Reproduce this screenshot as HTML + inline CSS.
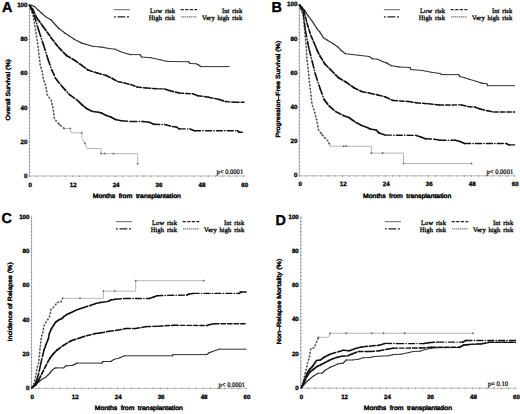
<!DOCTYPE html>
<html><head><meta charset="utf-8"><style>
html,body{margin:0;padding:0;background:#fff;overflow:hidden;width:520px;height:414px;}
svg{display:block;text-rendering:geometricPrecision;}
.tk{font-family:"Liberation Sans", sans-serif;font-weight:bold;font-size:6.2px;fill:#000;stroke:#000;stroke-width:0.32px;}
.at{font-family:"Liberation Sans", sans-serif;font-size:6.4px;word-spacing:1.5px;fill:#000;stroke:#000;stroke-width:0.45px;}
.yt{font-family:"Liberation Sans", sans-serif;font-size:6.1px;fill:#000;stroke:#000;stroke-width:0.42px;}
.pv{font-family:"Liberation Serif", serif;font-size:6.9px;fill:#000;stroke:#000;stroke-width:0.22px;}
.lg{font-family:"Liberation Serif", serif;font-size:6.5px;word-spacing:1.0px;letter-spacing:0.1px;fill:#000;stroke:#000;stroke-width:0.3px;}
.let{font-family:"Liberation Sans", sans-serif;font-weight:bold;font-size:14.4px;fill:#000;stroke:#000;stroke-width:0.35px;stroke-linejoin:round;}
</style></head><body>
<svg width="520" height="414" viewBox="0 0 520 414">
<rect width="520" height="414" fill="#fff"/>
<line x1="29.5" y1="4.6" x2="29.5" y2="176.4" stroke="#aaa" stroke-width="0.8"/>
<line x1="29.1" y1="176.0" x2="244.6" y2="176.0" stroke="#aaa" stroke-width="0.8"/>
<path d="M30.2 176.0h-1.4M30.2 172.6h-1.4M30.2 169.2h-1.4M30.2 165.8h-1.4M30.2 162.3h-1.4M30.2 158.9h-1.4M30.2 155.5h-1.4M30.2 152.1h-1.4M30.2 148.7h-1.4M30.2 145.3h-1.4M30.2 141.8h-1.4M30.2 138.4h-1.4M30.2 135.0h-1.4M30.2 131.6h-1.4M30.2 128.2h-1.4M30.2 124.8h-1.4M30.2 121.3h-1.4M30.2 117.9h-1.4M30.2 114.5h-1.4M30.2 111.1h-1.4M30.2 107.7h-1.4M30.2 104.3h-1.4M30.2 100.8h-1.4M30.2 97.4h-1.4M30.2 94.0h-1.4M30.2 90.6h-1.4M30.2 87.2h-1.4M30.2 83.8h-1.4M30.2 80.4h-1.4M30.2 76.9h-1.4M30.2 73.5h-1.4M30.2 70.1h-1.4M30.2 66.7h-1.4M30.2 63.3h-1.4M30.2 59.9h-1.4M30.2 56.4h-1.4M30.2 53.0h-1.4M30.2 49.6h-1.4M30.2 46.2h-1.4M30.2 42.8h-1.4M30.2 39.4h-1.4M30.2 35.9h-1.4M30.2 32.5h-1.4M30.2 29.1h-1.4M30.2 25.7h-1.4M30.2 22.3h-1.4M30.2 18.9h-1.4M30.2 15.4h-1.4M30.2 12.0h-1.4M30.2 8.6h-1.4M30.2 5.2h-1.4M29.5 175.5v1.4M36.6 175.5v1.4M43.8 175.5v1.4M51.0 175.5v1.4M58.1 175.5v1.4M65.2 175.5v1.4M72.4 175.5v1.4M79.6 175.5v1.4M86.7 175.5v1.4M93.9 175.5v1.4M101.0 175.5v1.4M108.2 175.5v1.4M115.3 175.5v1.4M122.5 175.5v1.4M129.6 175.5v1.4M136.8 175.5v1.4M143.9 175.5v1.4M151.1 175.5v1.4M158.2 175.5v1.4M165.3 175.5v1.4M172.5 175.5v1.4M179.7 175.5v1.4M186.8 175.5v1.4M194.0 175.5v1.4M201.1 175.5v1.4M208.2 175.5v1.4M215.4 175.5v1.4M222.6 175.5v1.4M229.7 175.5v1.4M236.9 175.5v1.4M244.0 175.5v1.4" stroke="#808080" stroke-width="0.9" fill="none"/>
<text x="27.5" y="177.8" text-anchor="end" class="tk">0</text>
<text x="27.5" y="143.6" text-anchor="end" class="tk">20</text>
<text x="27.5" y="109.5" text-anchor="end" class="tk">40</text>
<text x="27.5" y="75.3" text-anchor="end" class="tk">60</text>
<text x="27.5" y="41.2" text-anchor="end" class="tk">80</text>
<text x="27.5" y="7.0" text-anchor="end" class="tk">100</text>
<text x="30.3" y="186.6" text-anchor="middle" class="tk">0</text>
<text x="73.2" y="186.6" text-anchor="middle" class="tk">12</text>
<text x="116.1" y="186.6" text-anchor="middle" class="tk">24</text>
<text x="159.0" y="186.6" text-anchor="middle" class="tk">36</text>
<text x="201.9" y="186.6" text-anchor="middle" class="tk">48</text>
<text x="244.8" y="186.6" text-anchor="middle" class="tk">60</text>
<text x="92.7" y="197.6" class="at" textLength="88.2" lengthAdjust="spacingAndGlyphs">Months from transplantation</text>
<text transform="translate(10.4 120.4) rotate(-90)" class="yt" textLength="61.3" lengthAdjust="spacingAndGlyphs">Overall Survival (%)</text>
<text x="216.5" y="174.2" class="pv" textLength="26.7" lengthAdjust="spacingAndGlyphs">p< 0.0001</text>
<line x1="113.8" y1="9.7" x2="129.9" y2="9.7" stroke="#555" stroke-width="0.9"/>
<line x1="114.0" y1="16.8" x2="129.2" y2="16.8" stroke="#222" stroke-width="1.3" stroke-dasharray="1.8 1.7 7.8 1.7 2 20"/>
<line x1="180.6" y1="9.7" x2="197.3" y2="9.7" stroke="#222" stroke-width="1.2" stroke-dasharray="3.2 1.4"/>
<line x1="181.3" y1="16.8" x2="197.3" y2="16.8" stroke="#444" stroke-width="1.3" stroke-dasharray="1 1"/>
<text x="175.1" y="12.5" class="lg" text-anchor="end">Low risk</text>
<text x="175.1" y="19.5" class="lg" text-anchor="end">High risk</text>
<text x="242.3" y="12.5" class="lg" text-anchor="end">Int risk</text>
<text x="242.3" y="19.5" class="lg" text-anchor="end">Very high risk</text>
<text x="2.0" y="12.0" class="let">A</text>
<polyline points="29.5,5.2 33.0,15.0 35.7,30.8 38.0,46.2 39.5,59.2 40.3,65.4 41.8,70.0 43.4,79.2 45.7,85.4 47.2,94.6 50.3,99.2 51.1,100.0 52.6,106.2 53.4,110.8 54.2,117.7 56.5,121.5 59.5,124.6 64.2,128.5 70.3,128.5 71.1,132.8 81.8,132.8 81.8,137.7 84.9,143.1 87.2,148.5 101.1,148.5 101.1,153.6 137.7,153.6 137.7,163.8" fill="none" stroke="#9a9a9a" stroke-width="0.7"/>
<polyline points="29.5,5.2 33.0,15.0 35.7,30.8 38.0,46.2 39.5,59.2 40.3,65.4 41.8,70.0 43.4,79.2 45.7,85.4 47.2,94.6 50.3,99.2 51.1,100.0 52.6,106.2 53.4,110.8 54.2,117.7 56.5,121.5 59.5,124.6 64.2,128.5" fill="none" stroke="#454545" stroke-width="1.6" stroke-dasharray="1.5 2.0"/>
<path d="M99.9 153.6h2M100.9 152.6v2M103.6 153.6h2M104.6 152.6v2M112.4 153.6h2M113.4 152.6v2M136.7 163.8h2M137.7 162.8v2M58.5 124.6h2M59.5 123.6v2M63.2 128.5h2M64.2 127.5v2M69.3 128.5h2M70.3 127.5v2M80.8 132.8h2M81.8 131.8v2M83.9 143.1h2M84.9 142.1v2" stroke="#666" stroke-width="0.8" fill="none"/>
<g stroke="#333" stroke-linecap="round"><line x1="29.5" y1="5.2" x2="31.5" y2="5.3" stroke-width="1.03"/><line x1="31.5" y1="5.3" x2="34.7" y2="6.6" stroke-width="1.18"/><line x1="34.7" y1="6.6" x2="38.1" y2="10.1" stroke-width="1.25"/><line x1="38.1" y1="10.1" x2="41.5" y2="13.0" stroke-width="1.25"/><line x1="41.5" y1="13.0" x2="45.3" y2="16.4" stroke-width="1.25"/><line x1="45.3" y1="16.4" x2="51.1" y2="20.0" stroke-width="1.23"/><line x1="51.1" y1="20.0" x2="58.8" y2="28.5" stroke-width="1.25"/><line x1="58.8" y1="28.5" x2="64.9" y2="33.1" stroke-width="1.24"/><line x1="64.9" y1="33.1" x2="74.2" y2="39.2" stroke-width="1.23"/><line x1="74.2" y1="39.2" x2="81.8" y2="43.1" stroke-width="1.21"/><line x1="81.8" y1="43.1" x2="92.6" y2="46.2" stroke-width="1.14"/><line x1="92.6" y1="46.2" x2="100.0" y2="46.9" stroke-width="1.05"/><line x1="100.0" y1="46.9" x2="109.2" y2="48.5" stroke-width="1.09"/><line x1="109.2" y1="48.5" x2="115.4" y2="49.2" stroke-width="1.06"/><line x1="115.4" y1="49.2" x2="120.0" y2="51.5" stroke-width="1.20"/><line x1="120.0" y1="51.5" x2="126.2" y2="53.5" stroke-width="1.16"/><line x1="126.2" y1="53.5" x2="130.8" y2="54.6" stroke-width="1.12"/><line x1="130.8" y1="54.6" x2="140.0" y2="54.6" stroke-width="1.00"/><line x1="140.0" y1="54.6" x2="141.5" y2="56.9" stroke-width="1.23"/><line x1="141.5" y1="56.9" x2="150.8" y2="57.7" stroke-width="1.05"/><line x1="150.8" y1="57.7" x2="160.0" y2="59.7" stroke-width="1.11"/><line x1="160.0" y1="59.7" x2="166.2" y2="61.2" stroke-width="1.12"/><line x1="166.2" y1="61.2" x2="170.0" y2="61.5" stroke-width="1.05"/><line x1="170.0" y1="61.5" x2="188.5" y2="61.8" stroke-width="1.01"/><line x1="188.5" y1="61.8" x2="190.0" y2="63.4" stroke-width="1.25"/><line x1="190.0" y1="63.4" x2="196.2" y2="63.8" stroke-width="1.04"/><line x1="196.2" y1="63.8" x2="199.2" y2="65.4" stroke-width="1.21"/><line x1="199.2" y1="65.4" x2="200.8" y2="66.6" stroke-width="1.24"/><line x1="200.8" y1="66.6" x2="229.2" y2="66.6" stroke-width="1.00"/></g>
<g stroke="#111" stroke-linecap="round"><line x1="29.5" y1="5.2" x2="31.0" y2="8.0" stroke-width="1.70"/><line x1="31.0" y1="8.0" x2="34.2" y2="15.4" stroke-width="1.66" stroke-dasharray="6 2.3 0.3 2.3"/><line x1="34.2" y1="15.4" x2="38.8" y2="30.8" stroke-width="1.61" stroke-dasharray="6 2.3 0.3 2.3"/><line x1="38.8" y1="30.8" x2="43.4" y2="44.6" stroke-width="1.62" stroke-dasharray="6 2.3 0.3 2.3"/><line x1="43.4" y1="44.6" x2="48.0" y2="59.2" stroke-width="1.61" stroke-dasharray="6 2.3 0.3 2.3"/><line x1="48.0" y1="59.2" x2="51.8" y2="70.0" stroke-width="1.63" stroke-dasharray="6 2.3 0.3 2.3"/><line x1="51.8" y1="70.0" x2="55.7" y2="78.5" stroke-width="1.67" stroke-dasharray="6 2.3 0.3 2.3"/><line x1="55.7" y1="78.5" x2="61.8" y2="86.2" stroke-width="1.74" stroke-dasharray="6 2.3 0.3 2.3"/><line x1="61.8" y1="86.2" x2="69.5" y2="94.6" stroke-width="1.75" stroke-dasharray="6 2.3 0.3 2.3"/><line x1="69.5" y1="94.6" x2="77.5" y2="100.4" stroke-width="1.73" stroke-dasharray="6 2.3 0.3 2.3"/><line x1="77.5" y1="100.4" x2="81.8" y2="104.6" stroke-width="1.75" stroke-dasharray="6 2.3 0.3 2.3"/><line x1="81.8" y1="104.6" x2="86.5" y2="108.5" stroke-width="1.74" stroke-dasharray="6 2.3 0.3 2.3"/><line x1="86.5" y1="108.5" x2="92.6" y2="111.5" stroke-width="1.68" stroke-dasharray="6 2.3 0.3 2.3"/><line x1="92.6" y1="111.5" x2="98.8" y2="112.3" stroke-width="1.50" stroke-dasharray="6 2.3 0.3 2.3"/><line x1="98.8" y1="112.3" x2="101.5" y2="113.0" stroke-width="1.58"/><line x1="101.5" y1="113.0" x2="106.2" y2="115.4" stroke-width="1.69"/><line x1="106.2" y1="115.4" x2="110.8" y2="116.9" stroke-width="1.62"/><line x1="110.8" y1="116.9" x2="115.4" y2="119.5" stroke-width="1.70"/><line x1="115.4" y1="119.5" x2="121.5" y2="120.8" stroke-width="1.56" stroke-dasharray="6 2.3 0.3 2.3"/><line x1="121.5" y1="120.8" x2="130.8" y2="121.5" stroke-width="1.46" stroke-dasharray="6 2.3 0.3 2.3"/><line x1="130.8" y1="121.5" x2="143.1" y2="121.5" stroke-width="1.40" stroke-dasharray="6 2.3 0.3 2.3"/><line x1="143.1" y1="121.5" x2="149.2" y2="122.3" stroke-width="1.50" stroke-dasharray="6 2.3 0.3 2.3"/><line x1="149.2" y1="122.3" x2="153.8" y2="124.3" stroke-width="1.67"/><line x1="153.8" y1="124.3" x2="164.6" y2="124.6" stroke-width="1.42" stroke-dasharray="6 2.3 0.3 2.3"/><line x1="164.6" y1="124.6" x2="172.3" y2="126.6" stroke-width="1.58" stroke-dasharray="6 2.3 0.3 2.3"/><line x1="172.3" y1="126.6" x2="176.2" y2="126.9" stroke-width="1.46"/><line x1="176.2" y1="126.9" x2="179.2" y2="128.9" stroke-width="1.72"/><line x1="179.2" y1="128.9" x2="190.0" y2="128.9" stroke-width="1.40" stroke-dasharray="6 2.3 0.3 2.3"/><line x1="190.0" y1="128.9" x2="194.6" y2="130.8" stroke-width="1.66"/><line x1="194.6" y1="130.8" x2="237.7" y2="130.8" stroke-width="1.40" stroke-dasharray="6 2.3 0.3 2.3"/><line x1="237.7" y1="130.8" x2="239.2" y2="132.3" stroke-width="1.75"/><line x1="239.2" y1="132.3" x2="242.3" y2="132.3" stroke-width="1.40"/></g>
<g stroke="#111" stroke-linecap="round"><line x1="29.5" y1="5.2" x2="32.6" y2="9.2" stroke-width="1.74"/><line x1="32.6" y1="9.2" x2="37.2" y2="18.5" stroke-width="1.69" stroke-dasharray="4.5 2"/><line x1="37.2" y1="18.5" x2="43.4" y2="26.9" stroke-width="1.73" stroke-dasharray="4.5 2"/><line x1="43.4" y1="26.9" x2="51.1" y2="37.7" stroke-width="1.73" stroke-dasharray="4.5 2"/><line x1="51.1" y1="37.7" x2="58.8" y2="47.7" stroke-width="1.74" stroke-dasharray="4.5 2"/><line x1="58.8" y1="47.7" x2="66.5" y2="55.4" stroke-width="1.75" stroke-dasharray="4.5 2"/><line x1="66.5" y1="55.4" x2="74.2" y2="60.0" stroke-width="1.71" stroke-dasharray="4.5 2"/><line x1="74.2" y1="60.0" x2="81.8" y2="65.4" stroke-width="1.73" stroke-dasharray="4.5 2"/><line x1="81.8" y1="65.4" x2="88.0" y2="70.0" stroke-width="1.74" stroke-dasharray="4.5 2"/><line x1="88.0" y1="70.0" x2="97.2" y2="73.1" stroke-width="1.62" stroke-dasharray="4.5 2"/><line x1="97.2" y1="73.1" x2="106.2" y2="75.4" stroke-width="1.58" stroke-dasharray="4.5 2"/><line x1="106.2" y1="75.4" x2="112.3" y2="78.5" stroke-width="1.69" stroke-dasharray="4.5 2"/><line x1="112.3" y1="78.5" x2="117.7" y2="81.5" stroke-width="1.70" stroke-dasharray="4.5 2"/><line x1="117.7" y1="81.5" x2="124.6" y2="83.1" stroke-width="1.57" stroke-dasharray="4.5 2"/><line x1="124.6" y1="83.1" x2="130.8" y2="84.6" stroke-width="1.57" stroke-dasharray="4.5 2"/><line x1="130.8" y1="84.6" x2="136.9" y2="86.9" stroke-width="1.64" stroke-dasharray="4.5 2"/><line x1="136.9" y1="86.9" x2="146.2" y2="88.0" stroke-width="1.49" stroke-dasharray="4.5 2"/><line x1="146.2" y1="88.0" x2="158.5" y2="88.9" stroke-width="1.46" stroke-dasharray="4.5 2"/><line x1="158.5" y1="88.9" x2="164.6" y2="88.9" stroke-width="1.40" stroke-dasharray="4.5 2"/><line x1="164.6" y1="88.9" x2="169.2" y2="90.5" stroke-width="1.63"/><line x1="169.2" y1="90.5" x2="179.2" y2="93.1" stroke-width="1.58" stroke-dasharray="4.5 2"/><line x1="179.2" y1="93.1" x2="193.0" y2="93.8" stroke-width="1.44" stroke-dasharray="4.5 2"/><line x1="193.0" y1="93.8" x2="197.7" y2="95.7" stroke-width="1.65"/><line x1="197.7" y1="95.7" x2="208.5" y2="97.2" stroke-width="1.51" stroke-dasharray="4.5 2"/><line x1="208.5" y1="97.2" x2="219.2" y2="99.5" stroke-width="1.56" stroke-dasharray="4.5 2"/><line x1="219.2" y1="99.5" x2="225.4" y2="101.5" stroke-width="1.62" stroke-dasharray="4.5 2"/><line x1="225.4" y1="101.5" x2="234.6" y2="102.3" stroke-width="1.47" stroke-dasharray="4.5 2"/><line x1="234.6" y1="102.3" x2="244.0" y2="102.3" stroke-width="1.40" stroke-dasharray="4.5 2"/></g>
<line x1="299.4" y1="4.4" x2="299.4" y2="176.2" stroke="#aaa" stroke-width="0.8"/>
<line x1="299.0" y1="175.8" x2="515.0" y2="175.8" stroke="#aaa" stroke-width="0.8"/>
<path d="M300.1 175.8h-1.4M300.1 172.4h-1.4M300.1 169.0h-1.4M300.1 165.6h-1.4M300.1 162.1h-1.4M300.1 158.7h-1.4M300.1 155.3h-1.4M300.1 151.9h-1.4M300.1 148.5h-1.4M300.1 145.1h-1.4M300.1 141.6h-1.4M300.1 138.2h-1.4M300.1 134.8h-1.4M300.1 131.4h-1.4M300.1 128.0h-1.4M300.1 124.6h-1.4M300.1 121.1h-1.4M300.1 117.7h-1.4M300.1 114.3h-1.4M300.1 110.9h-1.4M300.1 107.5h-1.4M300.1 104.1h-1.4M300.1 100.6h-1.4M300.1 97.2h-1.4M300.1 93.8h-1.4M300.1 90.4h-1.4M300.1 87.0h-1.4M300.1 83.6h-1.4M300.1 80.2h-1.4M300.1 76.7h-1.4M300.1 73.3h-1.4M300.1 69.9h-1.4M300.1 66.5h-1.4M300.1 63.1h-1.4M300.1 59.7h-1.4M300.1 56.2h-1.4M300.1 52.8h-1.4M300.1 49.4h-1.4M300.1 46.0h-1.4M300.1 42.6h-1.4M300.1 39.2h-1.4M300.1 35.7h-1.4M300.1 32.3h-1.4M300.1 28.9h-1.4M300.1 25.5h-1.4M300.1 22.1h-1.4M300.1 18.7h-1.4M300.1 15.2h-1.4M300.1 11.8h-1.4M300.1 8.4h-1.4M300.1 5.0h-1.4M299.4 175.3v1.4M306.6 175.3v1.4M313.7 175.3v1.4M320.9 175.3v1.4M328.1 175.3v1.4M335.2 175.3v1.4M342.4 175.3v1.4M349.6 175.3v1.4M356.7 175.3v1.4M363.9 175.3v1.4M371.1 175.3v1.4M378.2 175.3v1.4M385.4 175.3v1.4M392.6 175.3v1.4M399.7 175.3v1.4M406.9 175.3v1.4M414.1 175.3v1.4M421.2 175.3v1.4M428.4 175.3v1.4M435.6 175.3v1.4M442.7 175.3v1.4M449.9 175.3v1.4M457.1 175.3v1.4M464.2 175.3v1.4M471.4 175.3v1.4M478.6 175.3v1.4M485.7 175.3v1.4M492.9 175.3v1.4M500.1 175.3v1.4M507.2 175.3v1.4M514.4 175.3v1.4" stroke="#808080" stroke-width="0.9" fill="none"/>
<text x="297.4" y="177.1" text-anchor="end" class="tk">0</text>
<text x="297.4" y="142.9" text-anchor="end" class="tk">20</text>
<text x="297.4" y="108.8" text-anchor="end" class="tk">40</text>
<text x="297.4" y="74.6" text-anchor="end" class="tk">60</text>
<text x="297.4" y="40.5" text-anchor="end" class="tk">80</text>
<text x="297.4" y="6.3" text-anchor="end" class="tk">100</text>
<text x="300.2" y="186.4" text-anchor="middle" class="tk">0</text>
<text x="343.2" y="186.4" text-anchor="middle" class="tk">12</text>
<text x="386.2" y="186.4" text-anchor="middle" class="tk">24</text>
<text x="429.2" y="186.4" text-anchor="middle" class="tk">36</text>
<text x="472.2" y="186.4" text-anchor="middle" class="tk">48</text>
<text x="515.2" y="186.4" text-anchor="middle" class="tk">60</text>
<text x="363.1" y="197.5" class="at" textLength="88.1" lengthAdjust="spacingAndGlyphs">Months from transplantation</text>
<text transform="translate(280.0 137.6) rotate(-90)" class="yt" textLength="96.9" lengthAdjust="spacingAndGlyphs">Progression–Free Survival (%)</text>
<text x="486.6" y="173.5" class="pv" textLength="26.6" lengthAdjust="spacingAndGlyphs">p< 0.0001</text>
<line x1="383.8" y1="9.7" x2="399.9" y2="9.7" stroke="#555" stroke-width="0.9"/>
<line x1="384.0" y1="16.8" x2="399.2" y2="16.8" stroke="#222" stroke-width="1.3" stroke-dasharray="1.8 1.7 7.8 1.7 2 20"/>
<line x1="450.6" y1="9.7" x2="467.3" y2="9.7" stroke="#222" stroke-width="1.2" stroke-dasharray="3.2 1.4"/>
<line x1="451.3" y1="16.8" x2="467.3" y2="16.8" stroke="#444" stroke-width="1.3" stroke-dasharray="1 1"/>
<text x="445.1" y="12.5" class="lg" text-anchor="end">Low risk</text>
<text x="445.1" y="19.5" class="lg" text-anchor="end">High risk</text>
<text x="512.3" y="12.5" class="lg" text-anchor="end">Int risk</text>
<text x="512.3" y="19.5" class="lg" text-anchor="end">Very high risk</text>
<text x="271.5" y="12.0" class="let">B</text>
<polyline points="299.5,5.0 303.2,15.4 304.7,30.8 306.2,46.2 307.0,60.0 307.8,65.4 309.3,80.8 310.8,93.1 311.6,101.5 312.4,105.4 314.7,112.3 317.0,121.5 318.5,130.0 321.6,133.8 324.7,137.7 328.5,141.5 330.1,146.2 371.4,146.2 371.4,153.1 403.5,153.1 403.5,163.5 471.5,163.5" fill="none" stroke="#9a9a9a" stroke-width="0.7"/>
<polyline points="299.5,5.0 303.2,15.4 304.7,30.8 306.2,46.2 307.0,60.0 307.8,65.4 309.3,80.8 310.8,93.1 311.6,101.5 312.4,105.4 314.7,112.3 317.0,121.5 318.5,130.0 321.6,133.8 324.7,137.7 328.5,141.5 330.1,146.2" fill="none" stroke="#454545" stroke-width="1.6" stroke-dasharray="1.5 2.0"/>
<path d="M342.7 146.2h2M343.7 145.2v2M345.2 146.2h2M346.2 145.2v2M370.4 153.1h2M371.4 152.1v2M381.7 153.1h2M382.7 152.1v2M402.5 163.5h2M403.5 162.5v2M470.5 163.5h2M471.5 162.5v2M320.6 133.8h2M321.6 132.8v2M323.7 137.7h2M324.7 136.7v2" stroke="#666" stroke-width="0.8" fill="none"/>
<g stroke="#333" stroke-linecap="round"><line x1="299.5" y1="5.0" x2="301.5" y2="6.5" stroke-width="1.24"/><line x1="301.5" y1="6.5" x2="304.5" y2="10.1" stroke-width="1.25"/><line x1="304.5" y1="10.1" x2="308.1" y2="15.9" stroke-width="1.23"/><line x1="308.1" y1="15.9" x2="312.5" y2="21.7" stroke-width="1.24"/><line x1="312.5" y1="21.7" x2="316.8" y2="28.3" stroke-width="1.23"/><line x1="316.8" y1="28.3" x2="319.7" y2="31.9" stroke-width="1.24"/><line x1="319.7" y1="31.9" x2="323.4" y2="37.7" stroke-width="1.23"/><line x1="323.4" y1="37.7" x2="327.0" y2="39.9" stroke-width="1.22"/><line x1="327.0" y1="39.9" x2="332.8" y2="43.5" stroke-width="1.23"/><line x1="332.8" y1="43.5" x2="338.0" y2="47.1" stroke-width="1.23"/><line x1="338.0" y1="47.1" x2="341.6" y2="50.8" stroke-width="1.25"/><line x1="341.6" y1="50.8" x2="345.5" y2="53.8" stroke-width="1.24"/><line x1="345.5" y1="53.8" x2="358.5" y2="55.2" stroke-width="1.06"/><line x1="358.5" y1="55.2" x2="369.3" y2="56.5" stroke-width="1.07"/><line x1="369.3" y1="56.5" x2="372.4" y2="58.8" stroke-width="1.24"/><line x1="372.4" y1="58.8" x2="377.7" y2="59.2" stroke-width="1.04"/><line x1="377.7" y1="59.2" x2="382.3" y2="61.5" stroke-width="1.20"/><line x1="382.3" y1="61.5" x2="386.9" y2="63.1" stroke-width="1.16"/><line x1="386.9" y1="63.1" x2="391.5" y2="65.8" stroke-width="1.22"/><line x1="391.5" y1="65.8" x2="399.2" y2="66.9" stroke-width="1.08"/><line x1="399.2" y1="66.9" x2="410.0" y2="67.4" stroke-width="1.03"/><line x1="410.0" y1="67.4" x2="410.8" y2="69.5" stroke-width="1.17"/><line x1="410.8" y1="69.5" x2="422.3" y2="70.5" stroke-width="1.05"/><line x1="422.3" y1="70.5" x2="431.5" y2="72.3" stroke-width="1.10"/><line x1="431.5" y1="72.3" x2="440.0" y2="73.5" stroke-width="1.08"/><line x1="440.0" y1="73.5" x2="441.5" y2="74.6" stroke-width="1.24"/><line x1="441.5" y1="74.6" x2="458.5" y2="74.6" stroke-width="1.00"/><line x1="458.5" y1="74.6" x2="460.0" y2="76.5" stroke-width="1.24"/><line x1="460.0" y1="76.5" x2="464.6" y2="77.7" stroke-width="1.13"/><line x1="464.6" y1="77.7" x2="469.2" y2="79.2" stroke-width="1.16"/><line x1="469.2" y1="79.2" x2="476.9" y2="81.5" stroke-width="1.15"/><line x1="476.9" y1="81.5" x2="481.5" y2="83.1" stroke-width="1.16"/><line x1="481.5" y1="83.1" x2="486.9" y2="83.8" stroke-width="1.07"/><line x1="486.9" y1="83.8" x2="487.7" y2="85.7" stroke-width="1.19"/><line x1="487.7" y1="85.7" x2="514.6" y2="85.7" stroke-width="1.00"/></g>
<g stroke="#111" stroke-linecap="round"><line x1="299.5" y1="5.0" x2="303.2" y2="12.3" stroke-width="1.69" stroke-dasharray="6 2.3 0.3 2.3"/><line x1="303.2" y1="12.3" x2="305.5" y2="30.8" stroke-width="1.50" stroke-dasharray="6 2.3 0.3 2.3"/><line x1="305.5" y1="30.8" x2="307.8" y2="43.1" stroke-width="1.54" stroke-dasharray="6 2.3 0.3 2.3"/><line x1="307.8" y1="43.1" x2="309.3" y2="50.0" stroke-width="1.56" stroke-dasharray="6 2.3 0.3 2.3"/><line x1="309.3" y1="50.0" x2="312.4" y2="62.3" stroke-width="1.58" stroke-dasharray="6 2.3 0.3 2.3"/><line x1="312.4" y1="62.3" x2="315.5" y2="74.6" stroke-width="1.58" stroke-dasharray="6 2.3 0.3 2.3"/><line x1="315.5" y1="74.6" x2="320.1" y2="88.5" stroke-width="1.62" stroke-dasharray="6 2.3 0.3 2.3"/><line x1="320.1" y1="88.5" x2="324.2" y2="99.6" stroke-width="1.64" stroke-dasharray="6 2.3 0.3 2.3"/><line x1="324.2" y1="99.6" x2="329.3" y2="106.2" stroke-width="1.74" stroke-dasharray="6 2.3 0.3 2.3"/><line x1="329.3" y1="106.2" x2="335.5" y2="111.5" stroke-width="1.74" stroke-dasharray="6 2.3 0.3 2.3"/><line x1="335.5" y1="111.5" x2="343.2" y2="115.4" stroke-width="1.69" stroke-dasharray="6 2.3 0.3 2.3"/><line x1="343.2" y1="115.4" x2="349.3" y2="117.7" stroke-width="1.64" stroke-dasharray="6 2.3 0.3 2.3"/><line x1="349.3" y1="117.7" x2="355.5" y2="122.3" stroke-width="1.74" stroke-dasharray="6 2.3 0.3 2.3"/><line x1="355.5" y1="122.3" x2="361.6" y2="125.4" stroke-width="1.69" stroke-dasharray="6 2.3 0.3 2.3"/><line x1="361.6" y1="125.4" x2="367.8" y2="127.7" stroke-width="1.64" stroke-dasharray="6 2.3 0.3 2.3"/><line x1="367.8" y1="127.7" x2="370.0" y2="128.9" stroke-width="1.70"/><line x1="370.0" y1="128.9" x2="376.2" y2="130.0" stroke-width="1.53" stroke-dasharray="6 2.3 0.3 2.3"/><line x1="376.2" y1="130.0" x2="379.2" y2="133.1" stroke-width="1.75"/><line x1="379.2" y1="133.1" x2="385.4" y2="135.1" stroke-width="1.62" stroke-dasharray="6 2.3 0.3 2.3"/><line x1="385.4" y1="135.1" x2="416.2" y2="135.4" stroke-width="1.41" stroke-dasharray="6 2.3 0.3 2.3"/><line x1="416.2" y1="135.4" x2="420.8" y2="136.9" stroke-width="1.62"/><line x1="420.8" y1="136.9" x2="425.4" y2="138.8" stroke-width="1.66"/><line x1="425.4" y1="138.8" x2="434.6" y2="139.2" stroke-width="1.44" stroke-dasharray="6 2.3 0.3 2.3"/><line x1="434.6" y1="139.2" x2="440.0" y2="140.3" stroke-width="1.55"/><line x1="440.0" y1="140.3" x2="455.4" y2="140.3" stroke-width="1.40" stroke-dasharray="6 2.3 0.3 2.3"/><line x1="455.4" y1="140.3" x2="460.0" y2="141.5" stroke-width="1.58"/><line x1="460.0" y1="141.5" x2="464.6" y2="143.5" stroke-width="1.67"/><line x1="464.6" y1="143.5" x2="506.2" y2="143.5" stroke-width="1.40" stroke-dasharray="6 2.3 0.3 2.3"/><line x1="506.2" y1="143.5" x2="509.2" y2="144.9" stroke-width="1.68"/><line x1="509.2" y1="144.9" x2="514.6" y2="144.9" stroke-width="1.40"/></g>
<g stroke="#111" stroke-linecap="round"><line x1="299.5" y1="5.0" x2="303.9" y2="10.8" stroke-width="1.74" stroke-dasharray="4.5 2"/><line x1="303.9" y1="10.8" x2="307.0" y2="23.1" stroke-width="1.58" stroke-dasharray="4.5 2"/><line x1="307.0" y1="23.1" x2="310.8" y2="35.4" stroke-width="1.61" stroke-dasharray="4.5 2"/><line x1="310.8" y1="35.4" x2="315.5" y2="46.2" stroke-width="1.67" stroke-dasharray="4.5 2"/><line x1="315.5" y1="46.2" x2="317.0" y2="50.0" stroke-width="1.65"/><line x1="317.0" y1="50.0" x2="320.1" y2="56.2" stroke-width="1.69" stroke-dasharray="4.5 2"/><line x1="320.1" y1="56.2" x2="324.7" y2="63.8" stroke-width="1.71" stroke-dasharray="4.5 2"/><line x1="324.7" y1="63.8" x2="330.8" y2="70.0" stroke-width="1.75" stroke-dasharray="4.5 2"/><line x1="330.8" y1="70.0" x2="338.5" y2="77.7" stroke-width="1.75" stroke-dasharray="4.5 2"/><line x1="338.5" y1="77.7" x2="346.2" y2="82.3" stroke-width="1.71" stroke-dasharray="4.5 2"/><line x1="346.2" y1="82.3" x2="353.9" y2="87.7" stroke-width="1.73" stroke-dasharray="4.5 2"/><line x1="353.9" y1="87.7" x2="361.6" y2="91.5" stroke-width="1.69" stroke-dasharray="4.5 2"/><line x1="361.6" y1="91.5" x2="370.0" y2="93.3" stroke-width="1.56" stroke-dasharray="4.5 2"/><line x1="370.0" y1="93.3" x2="377.7" y2="94.9" stroke-width="1.55" stroke-dasharray="4.5 2"/><line x1="377.7" y1="94.9" x2="385.4" y2="96.9" stroke-width="1.58" stroke-dasharray="4.5 2"/><line x1="385.4" y1="96.9" x2="393.1" y2="100.5" stroke-width="1.68" stroke-dasharray="4.5 2"/><line x1="393.1" y1="100.5" x2="408.5" y2="101.5" stroke-width="1.45" stroke-dasharray="4.5 2"/><line x1="408.5" y1="101.5" x2="416.2" y2="102.8" stroke-width="1.53" stroke-dasharray="4.5 2"/><line x1="416.2" y1="102.8" x2="428.5" y2="103.8" stroke-width="1.47" stroke-dasharray="4.5 2"/><line x1="428.5" y1="103.8" x2="439.2" y2="105.0" stroke-width="1.49" stroke-dasharray="4.5 2"/><line x1="439.2" y1="105.0" x2="461.5" y2="104.9" stroke-width="1.40" stroke-dasharray="4.5 2"/><line x1="461.5" y1="104.9" x2="467.7" y2="106.5" stroke-width="1.58" stroke-dasharray="4.5 2"/><line x1="467.7" y1="106.5" x2="475.4" y2="107.2" stroke-width="1.47" stroke-dasharray="4.5 2"/><line x1="475.4" y1="107.2" x2="480.0" y2="108.9" stroke-width="1.64"/><line x1="480.0" y1="108.9" x2="487.7" y2="110.8" stroke-width="1.58" stroke-dasharray="4.5 2"/><line x1="487.7" y1="110.8" x2="493.8" y2="112.0" stroke-width="1.55" stroke-dasharray="4.5 2"/><line x1="493.8" y1="112.0" x2="514.6" y2="112.0" stroke-width="1.40" stroke-dasharray="4.5 2"/></g>
<line x1="31.5" y1="215.8" x2="31.5" y2="388.7" stroke="#aaa" stroke-width="0.8"/>
<line x1="31.1" y1="388.3" x2="246.8" y2="388.3" stroke="#aaa" stroke-width="0.8"/>
<path d="M32.2 388.3h-1.4M32.2 384.9h-1.4M32.2 381.5h-1.4M32.2 378.1h-1.4M32.2 374.7h-1.4M32.2 371.3h-1.4M32.2 367.9h-1.4M32.2 364.5h-1.4M32.2 361.1h-1.4M32.2 357.6h-1.4M32.2 354.2h-1.4M32.2 350.8h-1.4M32.2 347.4h-1.4M32.2 344.0h-1.4M32.2 340.6h-1.4M32.2 337.2h-1.4M32.2 333.8h-1.4M32.2 330.4h-1.4M32.2 327.0h-1.4M32.2 323.6h-1.4M32.2 320.2h-1.4M32.2 316.8h-1.4M32.2 313.4h-1.4M32.2 310.0h-1.4M32.2 306.6h-1.4M32.2 303.1h-1.4M32.2 299.7h-1.4M32.2 296.3h-1.4M32.2 292.9h-1.4M32.2 289.5h-1.4M32.2 286.1h-1.4M32.2 282.7h-1.4M32.2 279.3h-1.4M32.2 275.9h-1.4M32.2 272.5h-1.4M32.2 269.1h-1.4M32.2 265.7h-1.4M32.2 262.3h-1.4M32.2 258.9h-1.4M32.2 255.5h-1.4M32.2 252.1h-1.4M32.2 248.7h-1.4M32.2 245.2h-1.4M32.2 241.8h-1.4M32.2 238.4h-1.4M32.2 235.0h-1.4M32.2 231.6h-1.4M32.2 228.2h-1.4M32.2 224.8h-1.4M32.2 221.4h-1.4M32.2 218.0h-1.4M31.5 387.8v1.4M38.7 387.8v1.4M45.8 387.8v1.4M53.0 387.8v1.4M60.1 387.8v1.4M67.3 387.8v1.4M74.4 387.8v1.4M81.6 387.8v1.4M88.8 387.8v1.4M95.9 387.8v1.4M103.1 387.8v1.4M110.2 387.8v1.4M117.4 387.8v1.4M124.5 387.8v1.4M131.7 387.8v1.4M138.8 387.8v1.4M146.0 387.8v1.4M153.2 387.8v1.4M160.3 387.8v1.4M167.5 387.8v1.4M174.6 387.8v1.4M181.8 387.8v1.4M188.9 387.8v1.4M196.1 387.8v1.4M203.3 387.8v1.4M210.4 387.8v1.4M217.6 387.8v1.4M224.7 387.8v1.4M231.9 387.8v1.4M239.0 387.8v1.4M246.2 387.8v1.4" stroke="#808080" stroke-width="0.9" fill="none"/>
<text x="29.5" y="389.6" text-anchor="end" class="tk">0</text>
<text x="29.5" y="355.5" text-anchor="end" class="tk">20</text>
<text x="29.5" y="321.5" text-anchor="end" class="tk">40</text>
<text x="29.5" y="287.4" text-anchor="end" class="tk">60</text>
<text x="29.5" y="253.4" text-anchor="end" class="tk">80</text>
<text x="29.5" y="219.3" text-anchor="end" class="tk">100</text>
<text x="32.3" y="398.9" text-anchor="middle" class="tk">0</text>
<text x="75.2" y="398.9" text-anchor="middle" class="tk">12</text>
<text x="118.2" y="398.9" text-anchor="middle" class="tk">24</text>
<text x="161.1" y="398.9" text-anchor="middle" class="tk">36</text>
<text x="204.1" y="398.9" text-anchor="middle" class="tk">48</text>
<text x="247.0" y="398.9" text-anchor="middle" class="tk">60</text>
<text x="94.7" y="410.2" class="at" textLength="88.1" lengthAdjust="spacingAndGlyphs">Months from transplantation</text>
<text transform="translate(12.0 341.4) rotate(-90)" class="yt" textLength="79.2" lengthAdjust="spacingAndGlyphs">Incidence of Relapse (%)</text>
<text x="218.6" y="386.5" class="pv" textLength="26.4" lengthAdjust="spacingAndGlyphs">p< 0.0001</text>
<line x1="115.8" y1="221.7" x2="131.9" y2="221.7" stroke="#555" stroke-width="0.9"/>
<line x1="116.0" y1="228.8" x2="131.2" y2="228.8" stroke="#222" stroke-width="1.3" stroke-dasharray="1.8 1.7 7.8 1.7 2 20"/>
<line x1="182.6" y1="221.7" x2="199.3" y2="221.7" stroke="#222" stroke-width="1.2" stroke-dasharray="3.2 1.4"/>
<line x1="183.3" y1="228.8" x2="199.3" y2="228.8" stroke="#444" stroke-width="1.3" stroke-dasharray="1 1"/>
<text x="177.1" y="224.5" class="lg" text-anchor="end">Low risk</text>
<text x="177.1" y="231.5" class="lg" text-anchor="end">High risk</text>
<text x="244.3" y="224.5" class="lg" text-anchor="end">Int risk</text>
<text x="244.3" y="231.5" class="lg" text-anchor="end">Very high risk</text>
<text x="1.6" y="223.2" class="let">C</text>
<polyline points="32.0,387.6 34.3,382.9 35.3,378.0 36.3,373.2 37.2,367.4 38.7,362.6 39.7,351.9 41.1,339.2 42.2,334.0 43.0,331.9 43.5,328.0 44.5,324.6 46.9,320.8 49.3,317.4 50.3,313.5 50.8,309.7 54.6,306.3 57.0,302.4 60.9,301.9 62.6,298.3 103.4,298.3 103.4,291.1 135.7,291.1 135.7,280.7 203.8,280.7" fill="none" stroke="#9a9a9a" stroke-width="0.7"/>
<polyline points="32.0,387.6 34.3,382.9 35.3,378.0 36.3,373.2 37.2,367.4 38.7,362.6 39.7,351.9 41.1,339.2 42.2,334.0 43.0,331.9 43.5,328.0 44.5,324.6 46.9,320.8 49.3,317.4 50.3,313.5 50.8,309.7 54.6,306.3 57.0,302.4 60.9,301.9 62.6,298.3" fill="none" stroke="#454545" stroke-width="1.6" stroke-dasharray="1.5 2.0"/>
<path d="M102.4 291.1h2M103.4 290.1v2M113.6 291.1h2M114.6 290.1v2M134.7 280.7h2M135.7 279.7v2M202.8 280.7h2M203.8 279.7v2M61.6 298.3h2M62.6 297.3v2M79.0 298.3h2M80.0 297.3v2" stroke="#666" stroke-width="0.8" fill="none"/>
<g stroke="#333" stroke-linecap="round"><line x1="32.0" y1="387.6" x2="35.8" y2="384.8" stroke-width="1.24"/><line x1="35.8" y1="384.8" x2="38.7" y2="381.9" stroke-width="1.25"/><line x1="38.7" y1="381.9" x2="41.6" y2="379.5" stroke-width="1.24"/><line x1="41.6" y1="379.5" x2="45.5" y2="377.5" stroke-width="1.21"/><line x1="45.5" y1="377.5" x2="47.9" y2="375.1" stroke-width="1.25"/><line x1="47.9" y1="375.1" x2="49.8" y2="373.2" stroke-width="1.25"/><line x1="49.8" y1="373.2" x2="50.8" y2="371.7" stroke-width="1.23"/><line x1="50.8" y1="371.7" x2="54.2" y2="368.4" stroke-width="1.25"/><line x1="54.2" y1="368.4" x2="56.1" y2="367.9" stroke-width="1.13"/><line x1="56.1" y1="367.9" x2="63.8" y2="367.9" stroke-width="1.00"/><line x1="63.8" y1="367.9" x2="65.7" y2="365.9" stroke-width="1.25"/><line x1="65.7" y1="365.9" x2="69.6" y2="365.5" stroke-width="1.06"/><line x1="69.6" y1="365.5" x2="72.6" y2="365.4" stroke-width="1.02"/><line x1="72.6" y1="365.4" x2="77.2" y2="363.1" stroke-width="1.20"/><line x1="77.2" y1="363.1" x2="101.8" y2="363.1" stroke-width="1.00"/><line x1="101.8" y1="363.1" x2="103.1" y2="361.5" stroke-width="1.24"/><line x1="103.1" y1="361.5" x2="110.8" y2="361.5" stroke-width="1.00"/><line x1="110.8" y1="361.5" x2="113.8" y2="359.5" stroke-width="1.23"/><line x1="113.8" y1="359.5" x2="120.0" y2="357.7" stroke-width="1.14"/><line x1="120.0" y1="357.7" x2="124.6" y2="355.8" stroke-width="1.18"/><line x1="124.6" y1="355.8" x2="172.3" y2="355.8" stroke-width="1.00"/><line x1="172.3" y1="355.8" x2="173.1" y2="354.6" stroke-width="1.23"/><line x1="173.1" y1="354.6" x2="206.9" y2="354.6" stroke-width="1.00"/><line x1="206.9" y1="354.6" x2="208.5" y2="353.1" stroke-width="1.25"/><line x1="208.5" y1="353.1" x2="212.3" y2="351.5" stroke-width="1.19"/><line x1="212.3" y1="351.5" x2="219.2" y2="349.2" stroke-width="1.16"/><line x1="219.2" y1="349.2" x2="246.2" y2="349.2" stroke-width="1.00"/></g>
<g stroke="#111" stroke-linecap="round"><line x1="32.0" y1="387.6" x2="34.8" y2="384.8" stroke-width="1.75"/><line x1="34.8" y1="384.8" x2="37.2" y2="379.0" stroke-width="1.66" stroke-dasharray="6 2.3 0.3 2.3"/><line x1="37.2" y1="379.0" x2="39.2" y2="371.3" stroke-width="1.58" stroke-dasharray="6 2.3 0.3 2.3"/><line x1="39.2" y1="371.3" x2="40.6" y2="364.5" stroke-width="1.55" stroke-dasharray="6 2.3 0.3 2.3"/><line x1="40.6" y1="364.5" x2="42.6" y2="355.8" stroke-width="1.57" stroke-dasharray="6 2.3 0.3 2.3"/><line x1="42.6" y1="355.8" x2="44.0" y2="350.0" stroke-width="1.57"/><line x1="44.0" y1="350.0" x2="46.2" y2="344.0" stroke-width="1.64" stroke-dasharray="6 2.3 0.3 2.3"/><line x1="46.2" y1="344.0" x2="48.4" y2="338.6" stroke-width="1.65"/><line x1="48.4" y1="338.6" x2="49.3" y2="333.8" stroke-width="1.54"/><line x1="49.3" y1="333.8" x2="51.3" y2="329.0" stroke-width="1.66"/><line x1="51.3" y1="329.0" x2="53.7" y2="325.1" stroke-width="1.72"/><line x1="53.7" y1="325.1" x2="55.6" y2="322.2" stroke-width="1.72"/><line x1="55.6" y1="322.2" x2="59.0" y2="319.8" stroke-width="1.73"/><line x1="59.0" y1="319.8" x2="61.9" y2="318.6" stroke-width="1.66"/><line x1="61.9" y1="318.6" x2="63.8" y2="316.6" stroke-width="1.75"/><line x1="63.8" y1="316.6" x2="66.7" y2="314.6" stroke-width="1.73"/><line x1="66.7" y1="314.6" x2="69.6" y2="313.3" stroke-width="1.67"/><line x1="69.6" y1="313.3" x2="75.7" y2="310.3" stroke-width="1.68" stroke-dasharray="6 2.3 0.3 2.3"/><line x1="75.7" y1="310.3" x2="81.8" y2="308.2" stroke-width="1.63" stroke-dasharray="6 2.3 0.3 2.3"/><line x1="81.8" y1="308.2" x2="89.5" y2="305.7" stroke-width="1.62" stroke-dasharray="6 2.3 0.3 2.3"/><line x1="89.5" y1="305.7" x2="95.7" y2="303.5" stroke-width="1.63" stroke-dasharray="6 2.3 0.3 2.3"/><line x1="95.7" y1="303.5" x2="100.3" y2="302.6" stroke-width="1.55"/><line x1="100.3" y1="302.6" x2="107.7" y2="301.5" stroke-width="1.51" stroke-dasharray="6 2.3 0.3 2.3"/><line x1="107.7" y1="301.5" x2="110.8" y2="300.0" stroke-width="1.68"/><line x1="110.8" y1="300.0" x2="115.4" y2="299.2" stroke-width="1.53"/><line x1="115.4" y1="299.2" x2="124.6" y2="298.5" stroke-width="1.46" stroke-dasharray="6 2.3 0.3 2.3"/><line x1="124.6" y1="298.5" x2="149.2" y2="298.5" stroke-width="1.40" stroke-dasharray="6 2.3 0.3 2.3"/><line x1="149.2" y1="298.5" x2="153.8" y2="296.9" stroke-width="1.63"/><line x1="153.8" y1="296.9" x2="156.9" y2="295.8" stroke-width="1.63"/><line x1="156.9" y1="295.8" x2="167.7" y2="295.4" stroke-width="1.43" stroke-dasharray="6 2.3 0.3 2.3"/><line x1="167.7" y1="295.4" x2="186.9" y2="295.1" stroke-width="1.41" stroke-dasharray="6 2.3 0.3 2.3"/><line x1="186.9" y1="295.1" x2="188.5" y2="294.2" stroke-width="1.70"/><line x1="188.5" y1="294.2" x2="193.1" y2="293.4" stroke-width="1.53"/><line x1="193.1" y1="293.4" x2="239.2" y2="293.4" stroke-width="1.40" stroke-dasharray="6 2.3 0.3 2.3"/><line x1="239.2" y1="293.4" x2="240.8" y2="292.0" stroke-width="1.75"/><line x1="240.8" y1="292.0" x2="246.2" y2="292.0" stroke-width="1.40"/></g>
<g stroke="#111" stroke-linecap="round"><line x1="32.0" y1="387.6" x2="35.8" y2="384.8" stroke-width="1.73"/><line x1="35.8" y1="384.8" x2="38.7" y2="380.0" stroke-width="1.71"/><line x1="38.7" y1="380.0" x2="41.6" y2="374.2" stroke-width="1.69" stroke-dasharray="4.5 2"/><line x1="41.6" y1="374.2" x2="44.5" y2="368.4" stroke-width="1.69" stroke-dasharray="4.5 2"/><line x1="44.5" y1="368.4" x2="47.4" y2="362.6" stroke-width="1.69" stroke-dasharray="4.5 2"/><line x1="47.4" y1="362.6" x2="50.3" y2="357.7" stroke-width="1.71"/><line x1="50.3" y1="357.7" x2="53.5" y2="353.6" stroke-width="1.74"/><line x1="53.5" y1="353.6" x2="57.1" y2="350.0" stroke-width="1.75"/><line x1="57.1" y1="350.0" x2="63.4" y2="345.4" stroke-width="1.73" stroke-dasharray="4.5 2"/><line x1="63.4" y1="345.4" x2="71.1" y2="340.8" stroke-width="1.71" stroke-dasharray="4.5 2"/><line x1="71.1" y1="340.8" x2="80.3" y2="337.7" stroke-width="1.62" stroke-dasharray="4.5 2"/><line x1="80.3" y1="337.7" x2="86.5" y2="335.8" stroke-width="1.61" stroke-dasharray="4.5 2"/><line x1="86.5" y1="335.8" x2="95.7" y2="333.4" stroke-width="1.58" stroke-dasharray="4.5 2"/><line x1="95.7" y1="333.4" x2="100.0" y2="333.1" stroke-width="1.46"/><line x1="100.0" y1="333.1" x2="109.2" y2="331.2" stroke-width="1.55" stroke-dasharray="4.5 2"/><line x1="109.2" y1="331.2" x2="116.9" y2="330.3" stroke-width="1.49" stroke-dasharray="4.5 2"/><line x1="116.9" y1="330.3" x2="126.2" y2="328.5" stroke-width="1.54" stroke-dasharray="4.5 2"/><line x1="126.2" y1="328.5" x2="135.4" y2="328.6" stroke-width="1.41" stroke-dasharray="4.5 2"/><line x1="135.4" y1="328.6" x2="146.2" y2="326.6" stroke-width="1.54" stroke-dasharray="4.5 2"/><line x1="146.2" y1="326.6" x2="158.5" y2="326.2" stroke-width="1.43" stroke-dasharray="4.5 2"/><line x1="158.5" y1="326.2" x2="173.8" y2="325.3" stroke-width="1.45" stroke-dasharray="4.5 2"/><line x1="173.8" y1="325.3" x2="206.9" y2="325.5" stroke-width="1.41" stroke-dasharray="4.5 2"/><line x1="206.9" y1="325.5" x2="210.0" y2="324.6" stroke-width="1.60"/><line x1="210.0" y1="324.6" x2="214.6" y2="323.8" stroke-width="1.53"/><line x1="214.6" y1="323.8" x2="246.2" y2="323.8" stroke-width="1.40" stroke-dasharray="4.5 2"/></g>
<line x1="300.8" y1="215.8" x2="300.8" y2="388.6" stroke="#aaa" stroke-width="0.8"/>
<line x1="300.4" y1="388.2" x2="516.2" y2="388.2" stroke="#aaa" stroke-width="0.8"/>
<path d="M301.5 388.2h-1.4M301.5 384.8h-1.4M301.5 381.4h-1.4M301.5 378.0h-1.4M301.5 374.6h-1.4M301.5 371.2h-1.4M301.5 367.8h-1.4M301.5 364.4h-1.4M301.5 361.0h-1.4M301.5 357.6h-1.4M301.5 354.2h-1.4M301.5 350.8h-1.4M301.5 347.4h-1.4M301.5 343.9h-1.4M301.5 340.5h-1.4M301.5 337.1h-1.4M301.5 333.7h-1.4M301.5 330.3h-1.4M301.5 326.9h-1.4M301.5 323.5h-1.4M301.5 320.1h-1.4M301.5 316.7h-1.4M301.5 313.3h-1.4M301.5 309.9h-1.4M301.5 306.5h-1.4M301.5 303.1h-1.4M301.5 299.7h-1.4M301.5 296.3h-1.4M301.5 292.9h-1.4M301.5 289.5h-1.4M301.5 286.1h-1.4M301.5 282.7h-1.4M301.5 279.3h-1.4M301.5 275.9h-1.4M301.5 272.5h-1.4M301.5 269.1h-1.4M301.5 265.7h-1.4M301.5 262.3h-1.4M301.5 258.8h-1.4M301.5 255.4h-1.4M301.5 252.0h-1.4M301.5 248.6h-1.4M301.5 245.2h-1.4M301.5 241.8h-1.4M301.5 238.4h-1.4M301.5 235.0h-1.4M301.5 231.6h-1.4M301.5 228.2h-1.4M301.5 224.8h-1.4M301.5 221.4h-1.4M301.5 218.0h-1.4M300.8 387.7v1.4M308.0 387.7v1.4M315.1 387.7v1.4M322.3 387.7v1.4M329.4 387.7v1.4M336.6 387.7v1.4M343.8 387.7v1.4M350.9 387.7v1.4M358.1 387.7v1.4M365.2 387.7v1.4M372.4 387.7v1.4M379.6 387.7v1.4M386.7 387.7v1.4M393.9 387.7v1.4M401.0 387.7v1.4M408.2 387.7v1.4M415.4 387.7v1.4M422.5 387.7v1.4M429.7 387.7v1.4M436.8 387.7v1.4M444.0 387.7v1.4M451.2 387.7v1.4M458.3 387.7v1.4M465.5 387.7v1.4M472.6 387.7v1.4M479.8 387.7v1.4M487.0 387.7v1.4M494.1 387.7v1.4M501.3 387.7v1.4M508.4 387.7v1.4M515.6 387.7v1.4" stroke="#808080" stroke-width="0.9" fill="none"/>
<text x="298.8" y="389.5" text-anchor="end" class="tk">0</text>
<text x="298.8" y="355.5" text-anchor="end" class="tk">20</text>
<text x="298.8" y="321.4" text-anchor="end" class="tk">40</text>
<text x="298.8" y="287.4" text-anchor="end" class="tk">60</text>
<text x="298.8" y="253.3" text-anchor="end" class="tk">80</text>
<text x="298.8" y="219.3" text-anchor="end" class="tk">100</text>
<text x="301.6" y="398.8" text-anchor="middle" class="tk">0</text>
<text x="344.6" y="398.8" text-anchor="middle" class="tk">12</text>
<text x="387.5" y="398.8" text-anchor="middle" class="tk">24</text>
<text x="430.5" y="398.8" text-anchor="middle" class="tk">36</text>
<text x="473.4" y="398.8" text-anchor="middle" class="tk">48</text>
<text x="516.4" y="398.8" text-anchor="middle" class="tk">60</text>
<text x="363.7" y="409.6" class="at" textLength="88.3" lengthAdjust="spacingAndGlyphs">Months from transplantation</text>
<text transform="translate(281.0 344.2) rotate(-90)" class="yt" textLength="85.5" lengthAdjust="spacingAndGlyphs">Non–Relapse Mortality (%)</text>
<text x="487.7" y="385.7" class="pv" textLength="20.5" lengthAdjust="spacingAndGlyphs">p= 0.10</text>
<line x1="384.8" y1="221.7" x2="400.9" y2="221.7" stroke="#555" stroke-width="0.9"/>
<line x1="385.0" y1="228.8" x2="400.2" y2="228.8" stroke="#222" stroke-width="1.3" stroke-dasharray="1.8 1.7 7.8 1.7 2 20"/>
<line x1="451.6" y1="221.7" x2="468.3" y2="221.7" stroke="#222" stroke-width="1.2" stroke-dasharray="3.2 1.4"/>
<line x1="452.3" y1="228.8" x2="468.3" y2="228.8" stroke="#444" stroke-width="1.3" stroke-dasharray="1 1"/>
<text x="446.1" y="224.5" class="lg" text-anchor="end">Low risk</text>
<text x="446.1" y="231.5" class="lg" text-anchor="end">High risk</text>
<text x="513.3" y="224.5" class="lg" text-anchor="end">Int risk</text>
<text x="513.3" y="231.5" class="lg" text-anchor="end">Very high risk</text>
<text x="275.5" y="225.0" class="let">D</text>
<polyline points="301.5,387.5 303.8,379.0 305.2,373.2 306.2,369.3 307.2,365.5 307.7,362.1 309.1,358.7 309.9,353.5 310.8,348.5 313.9,347.7 315.5,344.6 317.0,340.8 318.5,337.4 326.2,337.4 329.3,336.2 330.1,333.3 473.0,333.3" fill="none" stroke="#9a9a9a" stroke-width="0.7"/>
<polyline points="301.5,387.5 303.8,379.0 305.2,373.2 306.2,369.3 307.2,365.5 307.7,362.1 309.1,358.7 309.9,353.5 310.8,348.5 313.9,347.7 315.5,344.6 317.0,340.8 318.5,337.4" fill="none" stroke="#454545" stroke-width="1.6" stroke-dasharray="1.5 2.0"/>
<path d="M329.1 333.3h2M330.1 332.3v2M345.2 333.3h2M346.2 332.3v2M370.8 333.3h2M371.8 332.3v2M382.5 333.3h2M383.5 332.3v2M403.6 333.3h2M404.6 332.3v2M472.0 333.3h2M473.0 332.3v2M317.5 337.4h2M318.5 336.4v2" stroke="#666" stroke-width="0.8" fill="none"/>
<g stroke="#333" stroke-linecap="round"><line x1="301.5" y1="387.5" x2="304.8" y2="383.8" stroke-width="1.25"/><line x1="304.8" y1="383.8" x2="308.6" y2="380.0" stroke-width="1.25"/><line x1="308.6" y1="380.0" x2="313.5" y2="376.1" stroke-width="1.24"/><line x1="313.5" y1="376.1" x2="318.3" y2="373.2" stroke-width="1.22"/><line x1="318.3" y1="373.2" x2="322.2" y2="373.2" stroke-width="1.00"/><line x1="322.2" y1="373.2" x2="325.1" y2="370.3" stroke-width="1.25"/><line x1="325.1" y1="370.3" x2="329.9" y2="367.4" stroke-width="1.22"/><line x1="329.9" y1="367.4" x2="334.7" y2="365.5" stroke-width="1.18"/><line x1="334.7" y1="365.5" x2="337.6" y2="364.0" stroke-width="1.21"/><line x1="337.6" y1="364.0" x2="343.2" y2="363.1" stroke-width="1.09"/><line x1="343.2" y1="363.1" x2="346.2" y2="360.0" stroke-width="1.25"/><line x1="346.2" y1="360.0" x2="352.4" y2="360.0" stroke-width="1.00"/><line x1="352.4" y1="360.0" x2="358.5" y2="359.2" stroke-width="1.07"/><line x1="358.5" y1="359.2" x2="363.2" y2="357.7" stroke-width="1.15"/><line x1="363.2" y1="357.7" x2="370.8" y2="357.4" stroke-width="1.02"/><line x1="370.8" y1="357.4" x2="373.9" y2="356.5" stroke-width="1.14"/><line x1="373.9" y1="356.5" x2="379.2" y2="356.2" stroke-width="1.03"/><line x1="379.2" y1="356.2" x2="388.5" y2="355.7" stroke-width="1.03"/><line x1="388.5" y1="355.7" x2="393.1" y2="354.6" stroke-width="1.12"/><line x1="393.1" y1="354.6" x2="400.8" y2="354.2" stroke-width="1.03"/><line x1="400.8" y1="354.2" x2="410.0" y2="352.3" stroke-width="1.11"/><line x1="410.0" y1="352.3" x2="413.1" y2="351.5" stroke-width="1.13"/><line x1="413.1" y1="351.5" x2="420.0" y2="351.3" stroke-width="1.02"/><line x1="420.0" y1="351.3" x2="426.9" y2="349.0" stroke-width="1.16"/><line x1="426.9" y1="349.0" x2="431.5" y2="348.3" stroke-width="1.08"/><line x1="431.5" y1="348.3" x2="436.2" y2="347.7" stroke-width="1.07"/><line x1="436.2" y1="347.7" x2="459.2" y2="347.5" stroke-width="1.01"/><line x1="459.2" y1="347.5" x2="463.8" y2="345.2" stroke-width="1.20"/><line x1="463.8" y1="345.2" x2="469.6" y2="344.6" stroke-width="1.06"/><line x1="469.6" y1="344.6" x2="481.5" y2="344.0" stroke-width="1.03"/><line x1="481.5" y1="344.0" x2="489.2" y2="342.5" stroke-width="1.10"/><line x1="489.2" y1="342.5" x2="515.4" y2="342.5" stroke-width="1.00"/></g>
<g stroke="#111" stroke-linecap="round"><line x1="301.5" y1="387.5" x2="303.8" y2="381.9" stroke-width="1.66" stroke-dasharray="6 2.3 0.3 2.3"/><line x1="303.8" y1="381.9" x2="305.7" y2="377.1" stroke-width="1.65"/><line x1="305.7" y1="377.1" x2="307.2" y2="373.2" stroke-width="1.65"/><line x1="307.2" y1="373.2" x2="309.6" y2="369.3" stroke-width="1.72"/><line x1="309.6" y1="369.3" x2="312.5" y2="366.4" stroke-width="1.75"/><line x1="312.5" y1="366.4" x2="316.4" y2="360.6" stroke-width="1.73" stroke-dasharray="6 2.3 0.3 2.3"/><line x1="316.4" y1="360.6" x2="320.2" y2="360.1" stroke-width="1.50"/><line x1="320.2" y1="360.1" x2="324.1" y2="357.2" stroke-width="1.74"/><line x1="324.1" y1="357.2" x2="329.9" y2="354.3" stroke-width="1.69" stroke-dasharray="6 2.3 0.3 2.3"/><line x1="329.9" y1="354.3" x2="337.6" y2="351.9" stroke-width="1.61" stroke-dasharray="6 2.3 0.3 2.3"/><line x1="337.6" y1="351.9" x2="343.2" y2="350.3" stroke-width="1.60"/><line x1="343.2" y1="350.3" x2="349.3" y2="350.8" stroke-width="1.47" stroke-dasharray="6 2.3 0.3 2.3"/><line x1="349.3" y1="350.8" x2="355.5" y2="348.5" stroke-width="1.64" stroke-dasharray="6 2.3 0.3 2.3"/><line x1="355.5" y1="348.5" x2="361.6" y2="346.9" stroke-width="1.59" stroke-dasharray="6 2.3 0.3 2.3"/><line x1="361.6" y1="346.9" x2="369.3" y2="346.2" stroke-width="1.47" stroke-dasharray="6 2.3 0.3 2.3"/><line x1="369.3" y1="346.2" x2="377.0" y2="345.4" stroke-width="1.48" stroke-dasharray="6 2.3 0.3 2.3"/><line x1="377.0" y1="345.4" x2="379.2" y2="345.2" stroke-width="1.47"/><line x1="379.2" y1="345.2" x2="385.4" y2="343.4" stroke-width="1.60" stroke-dasharray="6 2.3 0.3 2.3"/><line x1="385.4" y1="343.4" x2="397.7" y2="343.6" stroke-width="1.41" stroke-dasharray="6 2.3 0.3 2.3"/><line x1="397.7" y1="343.6" x2="423.8" y2="343.6" stroke-width="1.40" stroke-dasharray="6 2.3 0.3 2.3"/><line x1="423.8" y1="343.6" x2="428.5" y2="342.8" stroke-width="1.53"/><line x1="428.5" y1="342.8" x2="437.7" y2="342.1" stroke-width="1.46" stroke-dasharray="6 2.3 0.3 2.3"/><line x1="437.7" y1="342.1" x2="463.0" y2="342.1" stroke-width="1.40" stroke-dasharray="6 2.3 0.3 2.3"/><line x1="463.0" y1="342.1" x2="466.0" y2="340.5" stroke-width="1.70"/><line x1="466.0" y1="340.5" x2="515.4" y2="340.5" stroke-width="1.40" stroke-dasharray="6 2.3 0.3 2.3"/></g>
<g stroke="#111" stroke-linecap="round"><line x1="301.5" y1="387.5" x2="303.8" y2="382.9" stroke-width="1.69"/><line x1="303.8" y1="382.9" x2="306.7" y2="377.1" stroke-width="1.69" stroke-dasharray="4.5 2"/><line x1="306.7" y1="377.1" x2="309.6" y2="372.2" stroke-width="1.71"/><line x1="309.6" y1="372.2" x2="313.5" y2="369.3" stroke-width="1.74"/><line x1="313.5" y1="369.3" x2="317.3" y2="366.4" stroke-width="1.74"/><line x1="317.3" y1="366.4" x2="321.2" y2="364.5" stroke-width="1.68"/><line x1="321.2" y1="364.5" x2="325.1" y2="362.6" stroke-width="1.68"/><line x1="325.1" y1="362.6" x2="328.9" y2="360.6" stroke-width="1.69"/><line x1="328.9" y1="360.6" x2="332.8" y2="358.7" stroke-width="1.68"/><line x1="332.8" y1="358.7" x2="337.6" y2="357.2" stroke-width="1.61"/><line x1="337.6" y1="357.2" x2="341.6" y2="356.2" stroke-width="1.58"/><line x1="341.6" y1="356.2" x2="347.8" y2="355.8" stroke-width="1.45" stroke-dasharray="4.5 2"/><line x1="347.8" y1="355.8" x2="352.4" y2="353.8" stroke-width="1.67"/><line x1="352.4" y1="353.8" x2="358.5" y2="351.5" stroke-width="1.64" stroke-dasharray="4.5 2"/><line x1="358.5" y1="351.5" x2="366.2" y2="351.5" stroke-width="1.40" stroke-dasharray="4.5 2"/><line x1="366.2" y1="351.5" x2="370.0" y2="351.5" stroke-width="1.40"/><line x1="370.0" y1="351.5" x2="379.2" y2="350.8" stroke-width="1.46" stroke-dasharray="4.5 2"/><line x1="379.2" y1="350.8" x2="388.5" y2="348.9" stroke-width="1.55" stroke-dasharray="4.5 2"/><line x1="388.5" y1="348.9" x2="393.1" y2="348.2" stroke-width="1.52"/><line x1="393.1" y1="348.2" x2="420.8" y2="348.0" stroke-width="1.41" stroke-dasharray="4.5 2"/><line x1="420.8" y1="348.0" x2="431.5" y2="347.3" stroke-width="1.45" stroke-dasharray="4.5 2"/><line x1="431.5" y1="347.3" x2="459.2" y2="347.3" stroke-width="1.40" stroke-dasharray="4.5 2"/><line x1="459.2" y1="347.3" x2="463.8" y2="345.0" stroke-width="1.69"/><line x1="463.8" y1="345.0" x2="469.6" y2="344.4" stroke-width="1.48"/><line x1="469.6" y1="344.4" x2="481.5" y2="343.8" stroke-width="1.44" stroke-dasharray="4.5 2"/><line x1="481.5" y1="343.8" x2="489.2" y2="342.3" stroke-width="1.55" stroke-dasharray="4.5 2"/><line x1="489.2" y1="342.3" x2="515.4" y2="342.3" stroke-width="1.40" stroke-dasharray="4.5 2"/></g>
</svg>
</body></html>
